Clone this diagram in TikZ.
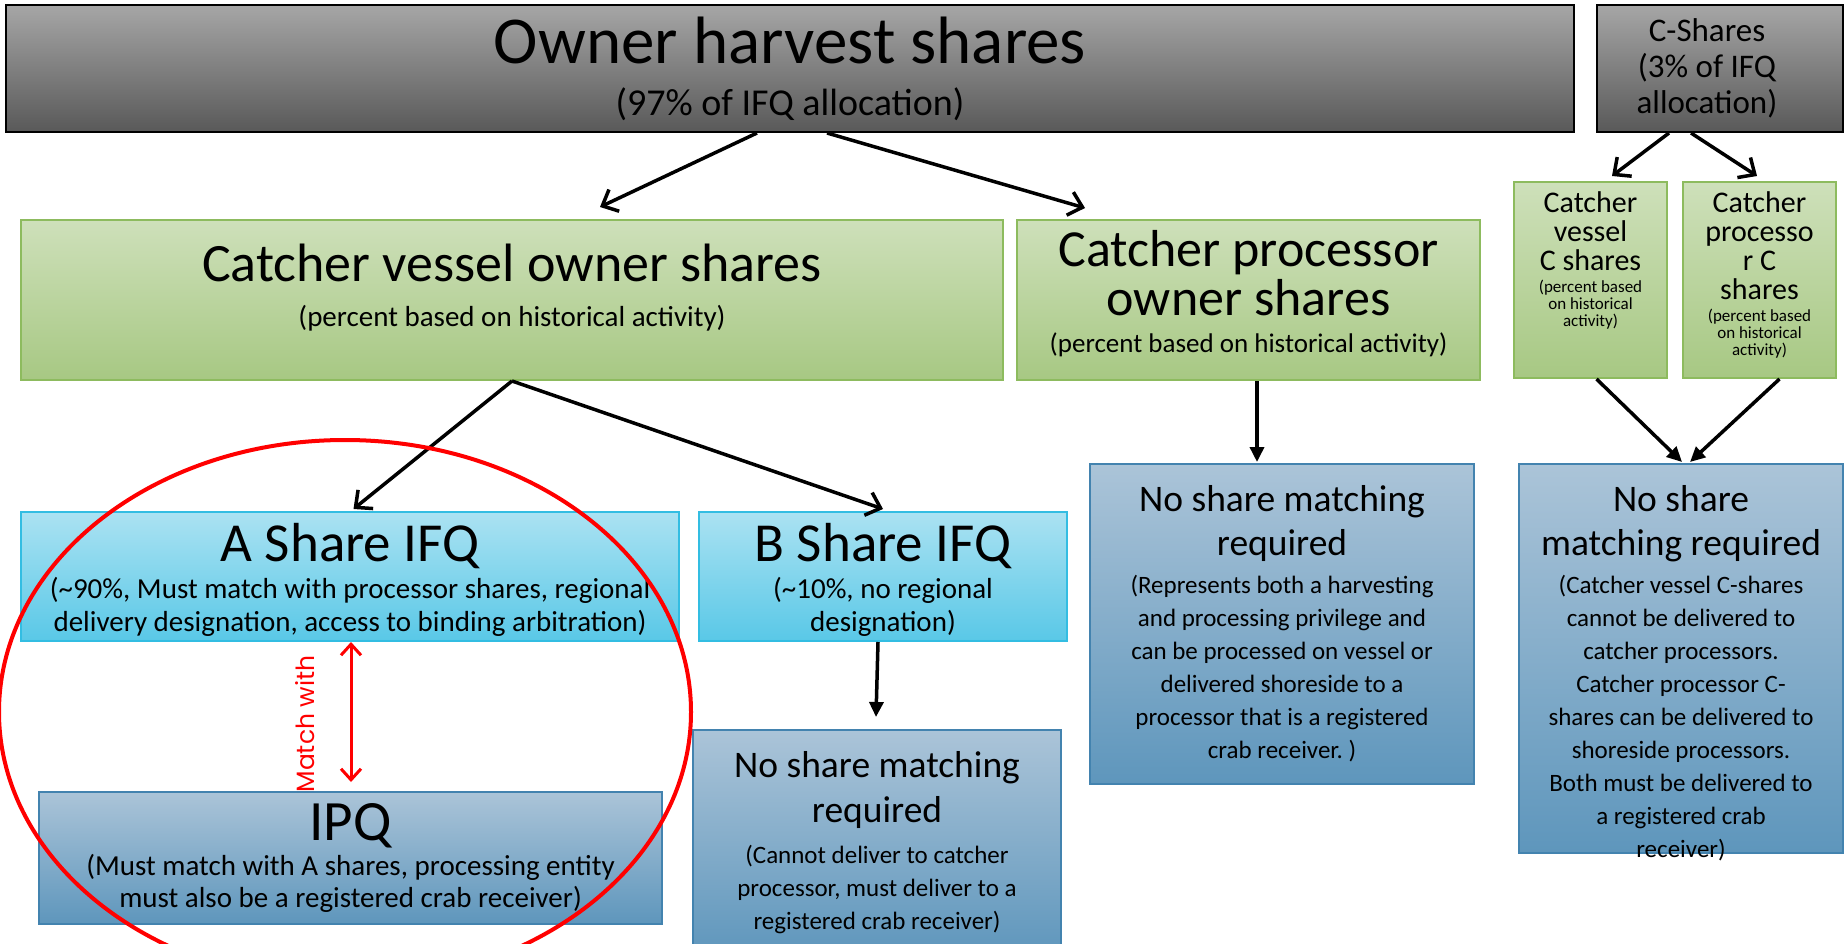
\documentclass[tikz,border=0pt]{standalone}
\usepackage{fontspec}
\setmainfont{Carlito}
\newfontfamily\matchfont{Poppins}
\usepackage{tikz}
\usetikzlibrary{arrows.meta}

\definecolor{ohtop}{HTML}{A6A6A6}
\definecolor{ohbot}{HTML}{595959}
\definecolor{grtop}{HTML}{CEE0BA}
\definecolor{grbot}{HTML}{A7C883}
\definecolor{grline}{HTML}{8DBB5E}
\definecolor{cytop}{HTML}{ABE2F2}
\definecolor{cybot}{HTML}{59C8E7}
\definecolor{cyline}{HTML}{33BDE2}
\definecolor{bltop}{HTML}{ABC4D8}
\definecolor{blbot}{HTML}{5E96BC}
\definecolor{blline}{HTML}{4383AF}

% one block of lines in a box, at its own size and line distance
\newcommand{\boxline}[3]{{\fontsize{#1}{#2}\selectfont\centering\spaceskip=\fontdimen2\font\xspaceskip=\fontdimen2\font #3\par}}

\begin{document}
\begin{tikzpicture}[x=1pt,y=-1pt]
            \tikzstyle{holdbox}=[rectangle, draw=black, line width=2pt, top color=ohtop, bottom color=ohbot, inner sep=0pt, align=center]
            \tikzstyle{ownbox}=[rectangle, draw=grline, line width=2pt, top color=grtop, bottom color=grbot, inner sep=0pt, align=center]
            \tikzstyle{ifqbox}=[rectangle, draw=cyline, line width=2pt, top color=cytop, bottom color=cybot, inner sep=0pt, align=center]
            \tikzstyle{rulebox}=[rectangle, draw=blline, line width=2pt, top color=bltop, bottom color=blbot, inner sep=0pt, align=center]
            \tikzstyle{connect}=[line width=3.5pt, -{Straight Barb[length=13pt,width=24pt]}]
            \tikzstyle{flow}=[line width=3.5pt, -{Triangle[length=15pt,width=14pt]}]
            \tikzstyle{pairing}=[red, line width=3pt, {Straight Barb[length=11pt,width=20pt]}-{Straight Barb[length=11pt,width=20pt]}]
            \useasboundingbox (0,0) rectangle (1845,944);

            \node[holdbox, minimum width=1568pt, minimum height=127pt, text width=1540pt] (OH) at (790,68.5){\boxline{67}{72}{Owner harvest shares}\boxline{38}{52}{(97\% of IFQ allocation)}};
            \node[holdbox, minimum width=246pt, minimum height=127pt, text width=240pt] (CS) at (1720,68.5){\boxline{33}{36}{\rightskip=26pt plus 1fil\relax C-Shares\\(3\% of IFQ\\allocation)}};

            \node[ownbox, minimum width=982pt, minimum height=160pt, text width=970pt] (CVO) at (512,300){\boxline{54}{58}{Catcher vessel owner shares}\boxline{29}{45}{(percent based on historical activity)}\kern24pt};
            \node[ownbox, minimum width=463pt, minimum height=160pt, text width=455pt] (CPO) at (1248.5,300){\boxline{52}{49}{Catcher processor\\owner shares}\boxline{27}{37}{(percent based on historical activity)}\kern12pt};
            \node[ownbox, minimum width=153pt, minimum height=196pt, text width=150pt] (CVC) at (1590.5,280){\boxline{30}{29}{Catcher\\vessel\\C shares}\vspace{5pt}\boxline{17}{17}{(percent based\\on historical\\activity)}\kern40pt};
            \node[ownbox, minimum width=153pt, minimum height=196pt, text width=150pt] (CPC) at (1759.5,280){\boxline{30}{29}{Catcher\\processo\\r C\\shares}\vspace{5pt}\boxline{17}{17}{(percent based\\on historical\\activity)}\kern10pt};

            \node[ifqbox, minimum width=658pt, minimum height=129pt, text width=650pt] (AS) at (350,576.5){\boxline{55}{60}{A Share IFQ}\vspace{4pt}\boxline{29}{33}{(\textasciitilde90\%, Must match with processor shares, regional\\delivery designation, access to binding arbitration)}\kern-7pt};
            \node[ifqbox, minimum width=368pt, minimum height=129pt, text width=360pt] (BS) at (883,576.5){\boxline{55}{60}{B Share IFQ}\vspace{4pt}\boxline{29}{33}{(\textasciitilde10\%, no regional\\designation)}\kern-7pt};

            \node[rulebox, minimum width=623pt, minimum height=132pt, text width=615pt] (IPQ) at (350.5,858){\boxline{57}{60}{IPQ}\vspace{3pt}\boxline{29}{32}{(Must match with A shares, processing entity\\must also be a registered crab receiver)}};
            \node[rulebox, minimum width=368pt, minimum height=226pt, text width=360pt] (NB) at (877,843){\boxline{37.5}{45}{No share matching\\required}\vspace{8pt}\boxline{25}{33}{(Cannot deliver to catcher\\processor, must deliver to a\\registered crab receiver)}};
            \node[rulebox, minimum width=384pt, minimum height=320pt, text width=376pt] (NCP) at (1282,624){\boxline{37.5}{44}{No share matching\\required}\vspace{5pt}\boxline{25}{33}{(Represents both a harvesting\\and processing privilege and\\can be processed on vessel or\\delivered shoreside to a\\processor that is a registered\\crab receiver. )}};
            \node[rulebox, minimum width=324pt, minimum height=389pt, text width=318pt] (NC) at (1681,658.5){\boxline{37.5}{44}{No share\\matching required}\vspace{5pt}\boxline{25}{33}{(Catcher vessel C-shares\\cannot be delivered to\\catcher processors.\\Catcher processor C-\\shares can be delivered to\\shoreside processors.\\Both must be delivered to\\a registered crab\\receiver)}\kern-30pt};

            \path[-] ([xshift=-33pt]OH.south) edge [connect] ([xshift=88pt,yshift=12pt]CVO.north);
            \path[-] ([xshift=37pt]OH.south) edge [connect] ([xshift=-163.5pt,yshift=11pt]CPO.north);
            \path[-] ([xshift=-51pt]CS.south) edge [connect] ([xshift=21.5pt,yshift=5pt]CVC.north);
            \path[-] ([xshift=-29pt]CS.south) edge [connect] ([xshift=-2.5pt,yshift=5pt]CPC.north);
            \path[-] (CVO.south) edge [connect] ([xshift=3.5pt,yshift=2pt]AS.north);
            \path[-] (CVO.south) edge [connect] ([yshift=2pt]BS.north);
            \path[-] ([xshift=8.5pt]CPO.south) edge [flow] ([xshift=-25pt,yshift=1pt]NCP.north);
            \path[-] ([xshift=6pt]CVC.south) edge [flow] ([xshift=1pt,yshift=1pt]NC.north);
            \path[-] ([xshift=20pt]CPC.south) edge [flow] ([xshift=9pt,yshift=1pt]NC.north);
            \path[-] ([xshift=-5pt]BS.south) edge [flow] ([xshift=-1pt,yshift=12pt]NB.north);
            \path[-] ([xshift=1pt]AS.south) edge [pairing] node[pos=0.585, rotate=90, anchor=south, inner sep=35pt, text=red, font=\matchfont\fontsize{25}{27}\selectfont] {Match with} ([xshift=0.5pt,yshift=9pt]IPQ.north);

            \draw[red, line width=4pt] (345,712) ellipse [x radius=346, y radius=272];
        \end{tikzpicture}
\end{document}
